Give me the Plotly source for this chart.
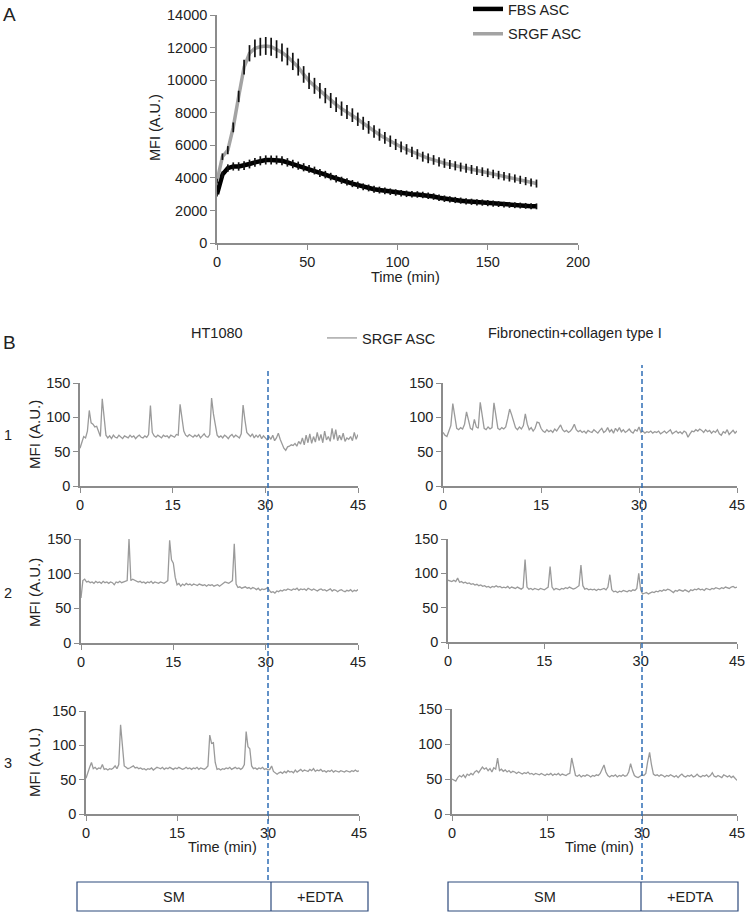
import plotly.graph_objects as go

W, H = 748, 913


def fx(px):
    return px / W


def fy(py):
    return 1 - py / H


FONT = "Liberation Sans, Arial, Helvetica, sans-serif"

# ---------------- Panel A data ----------------
time_a = list(range(0, 180, 3))
fbs_asc = [3000, 4200, 4600, 4700, 4700, 4750, 4850, 4950, 5050, 5100,
           5100, 5100, 5050, 4950, 4850, 4750, 4650, 4550, 4450, 4300,
           4200, 4080, 3950, 3850, 3750, 3650, 3550, 3450, 3380, 3300,
           3250, 3200, 3150, 3100, 3050, 3020, 3000, 2980, 2950, 2900,
           2850, 2780, 2720, 2680, 2640, 2600, 2560, 2530, 2500, 2480,
           2450, 2420, 2390, 2360, 2340, 2320, 2300, 2280, 2260, 2250]
fbs_err = [150, 200, 230, 250, 260, 270, 270, 270, 280, 280,
           280, 270, 270, 260, 260, 250, 250, 240, 240, 240,
           230, 230, 230, 220, 220, 220, 220, 210, 210, 210,
           210, 210, 200, 200, 200, 200, 200, 200, 200, 200,
           200, 200, 200, 190, 190, 190, 190, 190, 190, 190,
           190, 190, 180, 180, 180, 180, 180, 180, 180, 180]
srgf_asc = [3800, 5300, 5700, 7100, 9000, 10800, 11650, 11950, 12050, 12100,
            12050, 11900, 11700, 11450, 11150, 10800, 10350, 9950, 9650, 9350,
            9050, 8750, 8500, 8250, 8050, 7850, 7600, 7350, 7100, 6850,
            6650, 6450, 6250, 6050, 5900, 5750, 5600, 5450, 5300, 5200,
            5100, 4980, 4900, 4820, 4740, 4660, 4590, 4520, 4450, 4380,
            4310, 4240, 4170, 4100, 4030, 3960, 3880, 3800, 3720, 3650]
srgf_err = [150, 200, 250, 300, 350, 450, 500, 550, 550, 550,
            550, 550, 550, 540, 530, 520, 510, 500, 490, 480,
            470, 460, 450, 440, 430, 420, 410, 400, 390, 380,
            370, 360, 350, 340, 330, 320, 315, 310, 305, 300,
            295, 290, 285, 280, 280, 275, 275, 270, 270, 265,
            265, 260, 260, 255, 255, 250, 250, 250, 245, 245]
a_xticks = [0, 50, 100, 150, 200]
a_yticks = [0, 2000, 4000, 6000, 8000, 10000, 12000, 14000]

# ---------------- Panel B data ----------------
time_b = [round(i * 0.3, 1) for i in range(151)]
ht1080_1 = [55, 62, 72, 70, 80, 110, 92, 90, 86, 87,
            80, 72, 127, 100, 74, 70, 73, 69, 74, 71,
            70, 74, 72, 69, 73, 72, 70, 74, 71, 73,
            69, 72, 74, 71, 70, 73, 71, 75, 117, 78,
            73, 71, 74, 72, 70, 74, 72, 73, 70, 74,
            72, 71, 75, 74, 119, 100, 80, 74, 72, 75,
            73, 71, 74, 72, 75, 70, 73, 76, 72, 71,
            75, 128, 105, 86, 74, 71, 73, 70, 74, 72,
            69, 73, 75, 71, 74, 72, 70, 76, 118, 96,
            78, 75, 72, 76, 70, 74, 71, 75, 69, 73,
            70, 67, 72, 68, 74, 66, 70, 77, 68, 62,
            55, 52, 57, 58, 60, 59, 62, 58, 65, 61,
            70, 60, 74, 63, 76, 62, 72, 64, 78, 66,
            75, 63, 80, 67, 72, 65, 84, 68, 82, 66,
            74, 67, 77, 65, 70, 68, 72, 66, 78, 68,
            75]
fibro_1 = [78, 74, 72, 80, 88, 120, 100, 84, 82, 85,
           83, 90, 108, 96, 84, 82, 97, 86, 84, 122,
           105, 84, 82, 86, 83, 85, 121, 104, 84, 82,
           85, 83, 86, 98, 112, 104, 94, 85, 82, 86,
           83, 88, 105, 90, 82, 85, 80, 84, 93, 92,
           84, 80, 78, 82, 79, 81, 78, 83, 80, 84,
           89, 82, 79, 81, 78, 80, 84, 90, 82, 79,
           81, 78, 80, 77, 81, 79, 78, 82, 80, 77,
           81, 84, 78, 80, 85, 79, 82, 77, 84, 80,
           85, 79, 82, 78, 80, 83, 79, 77, 82, 80,
           86, 78, 80, 77, 79, 78, 80, 77, 79, 78,
           80, 76, 78, 80, 77, 79, 82, 76, 78, 80,
           77, 79, 76, 80, 78, 71, 76, 80, 79, 82,
           80, 83, 81, 78, 82, 79, 81, 77, 80, 78,
           82, 76, 74, 79, 77, 82, 75, 78, 81, 77,
           80]
ht1080_2 = [65, 90, 92, 88, 89, 87, 88, 86, 89, 87,
            88, 86, 89, 87, 88, 86, 88, 87, 84, 88,
            87, 89, 87, 88, 89, 90, 150, 90, 92, 91,
            90, 88, 89, 87, 88, 86, 88, 87, 89, 86,
            88, 87, 86, 88, 87, 86, 88, 90, 148, 120,
            115, 95, 84, 86, 82, 85, 83, 86, 84, 85,
            83, 85, 84, 83, 85, 84, 83, 84, 82, 84,
            83, 84, 82, 83, 84, 82, 84, 86, 88, 87,
            86, 88, 90, 143, 85, 80, 81, 79, 80, 81,
            79, 80, 78, 80, 79, 77, 79, 76, 78, 77,
            78, 80, 76, 73, 74, 72, 75, 74, 76, 75,
            77, 76, 78, 77, 76, 78, 77, 79, 76, 78,
            77, 78, 76, 79, 77, 76, 78, 77, 75, 77,
            78, 76, 77, 75, 76, 78, 75, 77, 76, 74,
            76, 77, 75, 74, 76, 75, 77, 74, 76, 75,
            77]
fibro_2 = [90, 89, 88, 90, 88, 93, 87, 88, 86, 87,
           85, 86, 84, 85, 83, 84, 82, 83, 81, 82,
           80, 81, 79, 81, 80, 82, 80, 81, 79, 80,
           79, 81, 78, 80, 79, 78, 80, 78, 77, 79,
           120, 80, 77, 78, 76, 78, 77, 76, 78, 77,
           76, 78, 80, 110, 80, 76, 78, 77, 76, 78,
           77, 79, 78, 80, 78, 77, 78, 80, 82, 112,
           82, 77, 78, 76, 77, 76, 77, 75, 77, 76,
           77, 78, 76, 80, 98, 76, 73, 74, 72, 74,
           73, 75, 74, 73, 75, 74, 76, 75, 78, 100,
           76, 70, 71, 72, 70, 72, 73, 72, 74, 73,
           75, 74, 76, 75, 77, 76, 74, 72, 75, 74,
           76, 75, 74, 76, 75, 73, 76, 75, 77, 76,
           78, 76, 77, 75, 78, 77, 76, 78, 77, 79,
           78, 77, 79, 78, 80, 79, 78, 80, 81, 79,
           80]
ht1080_3 = [52, 62, 68, 75, 66, 68, 65, 67, 66, 72,
            65, 66, 64, 66, 65, 67, 70, 66, 72, 130,
            100, 70, 68, 66, 67, 68, 70, 67, 68, 66,
            67, 65, 66, 64, 66, 65, 67, 64, 66, 68,
            67, 66, 68, 65, 67, 66, 68, 67, 65, 67,
            66, 68, 67, 65, 66, 68, 66, 67, 65, 67,
            66, 68, 65, 67, 66, 65, 67, 70, 115, 103,
            104, 75, 65, 66, 64, 66, 65, 67, 66, 68,
            65, 66, 68, 66, 67, 65, 67, 72, 120, 98,
            95, 70, 66, 67, 65, 67, 66, 68, 65, 66,
            64, 65, 70, 62, 60, 58, 60, 61, 59, 62,
            60, 63, 61, 62, 60, 64, 61, 63, 65, 62,
            64, 63, 62, 65, 63, 66, 62, 64, 63, 65,
            62, 63, 61, 63, 62, 64, 61, 63, 62, 61,
            63, 62, 61, 63, 62, 61, 63, 62, 64, 62,
            63]
fibro_3 = [50, 48, 47, 52, 55, 53, 56, 52, 57, 55,
           58, 56, 60, 62, 59, 63, 67, 64, 66, 62,
           65, 60, 66, 64, 80, 62, 64, 61, 63, 60,
           62, 59, 61, 60, 58, 60, 59, 57, 59, 58,
           60, 57, 58, 56, 58, 57, 56, 58, 57, 55,
           57, 56, 58, 55, 57, 56, 58, 55, 57, 56,
           55, 57, 58, 80, 65, 55, 54, 56, 53, 55,
           54, 56, 55, 53, 55, 54, 56, 55, 58, 64,
           70, 60, 55, 53, 55, 54, 56, 53, 55, 54,
           56, 54, 55, 60, 72, 62, 55, 53, 52, 54,
           56, 55, 58, 75, 88, 70, 57, 55, 56, 54,
           56, 55, 53, 55, 54, 56, 55, 53, 55, 52,
           55, 57, 54, 53, 55, 54, 56, 53, 54, 57,
           54, 53, 55, 54, 56, 53, 55, 59, 54, 53,
           55, 54, 52, 56, 54, 53, 55, 52, 54, 51,
           48]
b_xticks = [0, 15, 30, 45]
b_yticks = [0, 50, 100, 150]
edta_time = 30

fig = go.Figure()

# ---- Panel A traces ----
fig.add_trace(go.Scatter(x=time_a, y=fbs_asc, mode="lines", name="FBS ASC",
                         line=dict(color="#000000", width=4.5), legendgroup="fbs",
                         xaxis="x", yaxis="y", legend="legend"))
fig.add_trace(go.Scatter(x=time_a, y=srgf_asc, mode="lines", name="SRGF ASC",
                         line=dict(color="#a3a3a3", width=3.5), legendgroup="srgf",
                         xaxis="x", yaxis="y", legend="legend"))
for ys, errs in ((fbs_asc, fbs_err), (srgf_asc, srgf_err)):
    fig.add_trace(go.Scatter(x=time_a, y=ys, mode="markers",
                             marker=dict(opacity=0, size=2),
                             error_y=dict(type="data", array=errs, color="#111111",
                                          thickness=1.7, width=0),
                             showlegend=False, hoverinfo="skip",
                             xaxis="x", yaxis="y"))

# ---- Panel B traces ----
series_b = [ht1080_1, fibro_1, ht1080_2, fibro_2, ht1080_3, fibro_3]
for k, ys in enumerate(series_b):
    n = k + 2
    fig.add_trace(go.Scatter(x=time_b, y=ys, mode="lines", name="SRGF ASC",
                             line=dict(color="#9a9a9a", width=1.3),
                             showlegend=(k == 0), legend="legend2",
                             xaxis="x%d" % n, yaxis="y%d" % n))

axis_common = dict(showgrid=False, zeroline=False, showline=True,
                   linecolor="#8c8c8c", linewidth=1.5, ticks="outside",
                   ticklen=5, tickwidth=1.2, tickcolor="#8c8c8c", tickformat="d",
                   automargin=False, ticklabeloverflow="allow",
                   tickfont=dict(family=FONT, size=14.5, color="#222222"))

layout = dict(
    width=W, height=H, margin=dict(l=0, r=0, t=0, b=0, autoexpand=False),
    paper_bgcolor="white", plot_bgcolor="white",
    font=dict(family=FONT, size=14, color="#222222"),
)

# Panel A axes
layout["xaxis"] = dict(axis_common, domain=[fx(217), fx(578)], range=[0, 200],
                       tickvals=a_xticks, anchor="y")
layout["yaxis"] = dict(axis_common, domain=[fy(243), fy(15)], range=[0, 14000],
                       tickvals=a_yticks, anchor="x")

# Panel B axes: (x_left, x_right, y_bottom, y_top) in reference pixels
b_boxes = [
    (80, 358, 486, 383),
    (443, 737, 486, 383),
    (81, 358, 643, 539),
    (448, 737, 642, 539),
    (86, 359, 814, 711),
    (452, 737, 814, 709),
]
for k, (x0, x1, yb, yt) in enumerate(b_boxes):
    n = k + 2
    layout["xaxis%d" % n] = dict(axis_common, domain=[fx(x0), fx(x1)], range=[0, 45],
                                 tickvals=b_xticks, anchor="y%d" % n)
    layout["yaxis%d" % n] = dict(axis_common, domain=[fy(yb), fy(yt)], range=[0, 150],
                                 tickvals=b_yticks, anchor="x%d" % n)

layout["legend"] = dict(x=fx(468), y=fy(-7), xanchor="left", yanchor="top",
                        font=dict(family=FONT, size=14.5, color="#222222"),
                        bgcolor="rgba(0,0,0,0)", borderwidth=0, itemwidth=30,
                        tracegroupgap=3)
layout["legend2"] = dict(x=fx(322), y=fy(322), xanchor="left", yanchor="top",
                         font=dict(family=FONT, size=14.5, color="#222222"),
                         bgcolor="rgba(0,0,0,0)", borderwidth=0, itemwidth=30)

ann = []


def text(x, y, s, size=14.5, angle=0, xanchor="center"):
    ann.append(dict(x=fx(x), y=fy(y), xref="paper", yref="paper", text=s,
                    showarrow=False, xanchor=xanchor, yanchor="middle",
                    textangle=angle, font=dict(family=FONT, size=size, color="#222222")))


text(9, 14, "A", size=19)
text(9, 342, "B", size=19)
text(155, 128, "MFI (A.U.)", size=14.5, angle=-90)
text(405, 277, "Time (min)", size=14.5)
text(217, 333, "HT1080", size=14.5)
text(575, 333, "Fibronectin+collagen type I", size=14.5)
for yy, lab in ((435, "1"), (593, "2"), (763, "3")):
    text(8, yy, lab, size=14.5)
    text(34, yy, "MFI (A.U.)", size=15, angle=-90)
text(222, 847, "Time (min)", size=14.5)
text(599, 847, "Time (min)", size=14.5)

# bottom condition boxes
shapes = []
box_color = "#2d4a7c"
for (bx0, bdiv, bx1) in ((77, 271, 368), (448, 641, 738)):
    shapes.append(dict(type="rect", xref="paper", yref="paper", x0=fx(bx0), x1=fx(bx1),
                       y0=fy(911), y1=fy(882), line=dict(color=box_color, width=1.2)))
    shapes.append(dict(type="line", xref="paper", yref="paper", x0=fx(bdiv), x1=fx(bdiv),
                       y0=fy(911), y1=fy(882), line=dict(color=box_color, width=1.2)))
    text((bx0 + bdiv) / 2, 897, "SM", size=14.5)
    text((bdiv + bx1) / 2, 897, "+EDTA", size=14.5)

# dashed EDTA markers
shapes.append(dict(type="line", xref="x6", yref="paper", x0=edta_time, x1=edta_time,
                   y0=fy(880), y1=fy(370), line=dict(color="#2f6db5", width=1.5, dash="5px,3px")))
shapes.append(dict(type="line", xref="x7", yref="paper", x0=edta_time, x1=edta_time,
                   y0=fy(880), y1=fy(365), line=dict(color="#2f6db5", width=1.5, dash="5px,3px")))

layout["annotations"] = ann
layout["shapes"] = shapes
fig.update_layout(**layout)

# remove the browser's default 8 px body margin so the figure fills the window
fig.write_html("out.html", config={"displayModeBar": False},
               post_script="document.body.style.margin='0';document.body.style.overflow='hidden';")
